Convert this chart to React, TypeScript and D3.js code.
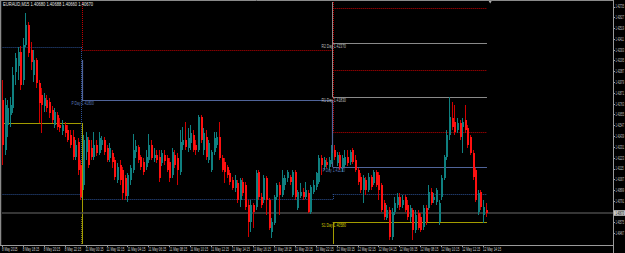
import React from "react";
import * as d3 from "d3";

type OHLC = [number, number, number, number]; // open, high, low, close

const symbolTitle = "EURAUD,M15  1.40680 1.40688 1.40660 1.40670";

// Friday 8 May 2015 (from 16:15)
const day1Candles: OHLC[] = [
  [1.4180, 1.4200, 1.4115, 1.4135], [1.4130, 1.4182, 1.4125, 1.4175], [1.4155, 1.4180, 1.4143, 1.4172],
  [1.4165, 1.4183, 1.4153, 1.4175], [1.4172, 1.4213, 1.4167, 1.4205], [1.4208, 1.4227, 1.4195, 1.4222],
  [1.4214, 1.4233, 1.4200, 1.4228], [1.4228, 1.4234, 1.4190, 1.4195], [1.4200, 1.4242, 1.4195, 1.4235],
  [1.4235, 1.4267, 1.4233, 1.4255], [1.4255, 1.4258, 1.4223, 1.4227], [1.4230, 1.4238, 1.4210, 1.4218],
  [1.4205, 1.4230, 1.4198, 1.4220], [1.4220, 1.4222, 1.4192, 1.4197], [1.4197, 1.4200, 1.4157, 1.4177],
  [1.4185, 1.4192, 1.4147, 1.4175], [1.4174, 1.4187, 1.4168, 1.4182], [1.4180, 1.4185, 1.4168, 1.4172],
  [1.4178, 1.4182, 1.4162, 1.4167], [1.4170, 1.4174, 1.4157, 1.4160], [1.4155, 1.4172, 1.4152, 1.4168],
  [1.4165, 1.4168, 1.4150, 1.4153], [1.4155, 1.4162, 1.4148, 1.4152], [1.4149, 1.4160, 1.4145, 1.4155],
  [1.4155, 1.4158, 1.4143, 1.4147], [1.4150, 1.4155, 1.4138, 1.4140], [1.4145, 1.4150, 1.4132, 1.4135],
  [1.4143, 1.4150, 1.4120, 1.4123], [1.4123, 1.4140, 1.4120, 1.4135], [1.4138, 1.4142, 1.4105, 1.4110],
  [1.4115, 1.4120, 1.4080, 1.4083],
];

// Monday 11 May 2015
const day2Candles: OHLC[] = [
  [1.4095, 1.4145, 1.4090, 1.4140], [1.4128, 1.4148, 1.4120, 1.4143], [1.4140, 1.4143, 1.4112, 1.4115],
  [1.4132, 1.4140, 1.4120, 1.4123], [1.4123, 1.4148, 1.4120, 1.4135], [1.4135, 1.4140, 1.4124, 1.4127],
  [1.4127, 1.4148, 1.4125, 1.4142], [1.4135, 1.4144, 1.4130, 1.4140], [1.4140, 1.4143, 1.4125, 1.4128],
  [1.4132, 1.4135, 1.4118, 1.4120], [1.4122, 1.4137, 1.4118, 1.4132], [1.4127, 1.4130, 1.4112, 1.4118],
  [1.4120, 1.4123, 1.4100, 1.4103], [1.4100, 1.4117, 1.4097, 1.4113], [1.4115, 1.4120, 1.4095, 1.4100],
  [1.4110, 1.4113, 1.4080, 1.4087], [1.4102, 1.4105, 1.4080, 1.4084], [1.4084, 1.4107, 1.4078, 1.4105],
  [1.4100, 1.4115, 1.4095, 1.4112], [1.4110, 1.4146, 1.4107, 1.4130], [1.4128, 1.4140, 1.4122, 1.4134],
  [1.4133, 1.4135, 1.4117, 1.4120], [1.4123, 1.4125, 1.4110, 1.4113], [1.4118, 1.4122, 1.4105, 1.4108],
  [1.4113, 1.4130, 1.4110, 1.4123], [1.4120, 1.4146, 1.4117, 1.4135], [1.4135, 1.4140, 1.4120, 1.4122],
  [1.4122, 1.4132, 1.4118, 1.4125], [1.4125, 1.4130, 1.4117, 1.4120], [1.4123, 1.4130, 1.4098, 1.4102],
  [1.4117, 1.4130, 1.4114, 1.4127], [1.4125, 1.4130, 1.4115, 1.4119], [1.4122, 1.4125, 1.4108, 1.4110],
  [1.4118, 1.4122, 1.4098, 1.4102], [1.4105, 1.4132, 1.4102, 1.4128], [1.4125, 1.4130, 1.4112, 1.4115],
  [1.4122, 1.4127, 1.4095, 1.4110], [1.4108, 1.4150, 1.4105, 1.4138], [1.4135, 1.4153, 1.4130, 1.4140],
  [1.4140, 1.4158, 1.4130, 1.4133], [1.4132, 1.4152, 1.4128, 1.4142], [1.4137, 1.4155, 1.4130, 1.4147],
  [1.4145, 1.4150, 1.4128, 1.4130], [1.4135, 1.4140, 1.4125, 1.4130], [1.4130, 1.4165, 1.4128, 1.4163],
  [1.4163, 1.4165, 1.4137, 1.4140], [1.4130, 1.4152, 1.4125, 1.4147], [1.4143, 1.4150, 1.4120, 1.4123],
  [1.4120, 1.4140, 1.4117, 1.4137], [1.4110, 1.4130, 1.4108, 1.4128], [1.4128, 1.4148, 1.4125, 1.4142],
  [1.4135, 1.4148, 1.4132, 1.4143], [1.4143, 1.4158, 1.4120, 1.4122], [1.4122, 1.4125, 1.4108, 1.4110],
  [1.4118, 1.4122, 1.4097, 1.4108], [1.4113, 1.4115, 1.4102, 1.4105], [1.4107, 1.4110, 1.4095, 1.4098],
  [1.4100, 1.4103, 1.4090, 1.4092], [1.4092, 1.4105, 1.4088, 1.4100], [1.4097, 1.4100, 1.4077, 1.4080],
  [1.4080, 1.4102, 1.4073, 1.4100], [1.4098, 1.4102, 1.4084, 1.4087], [1.4095, 1.4098, 1.4070, 1.4073],
  [1.4075, 1.4080, 1.4043, 1.4058], [1.4058, 1.4080, 1.4048, 1.4075], [1.4075, 1.4077, 1.4052, 1.4068],
  [1.4073, 1.4110, 1.4070, 1.4107], [1.4108, 1.4110, 1.4080, 1.4083], [1.4083, 1.4087, 1.4072, 1.4075],
  [1.4080, 1.4105, 1.4077, 1.4102], [1.4102, 1.4104, 1.4065, 1.4080], [1.4080, 1.4082, 1.4050, 1.4052],
  [1.4048, 1.4062, 1.4042, 1.4058], [1.4057, 1.4085, 1.4055, 1.4083], [1.4083, 1.4097, 1.4080, 1.4095],
  [1.4095, 1.4098, 1.4065, 1.4085], [1.4085, 1.4110, 1.4083, 1.4102], [1.4095, 1.4105, 1.4090, 1.4102],
  [1.4102, 1.4110, 1.4098, 1.4108], [1.4103, 1.4105, 1.4095, 1.4098], [1.4085, 1.4110, 1.4083, 1.4108],
  [1.4108, 1.4110, 1.4080, 1.4083], [1.4072, 1.4090, 1.4070, 1.4088], [1.4084, 1.4097, 1.4082, 1.4088],
  [1.4088, 1.4092, 1.4080, 1.4083], [1.4083, 1.4098, 1.4081, 1.4090], [1.4087, 1.4090, 1.4067, 1.4068],
  [1.4068, 1.4095, 1.4066, 1.4093], [1.4088, 1.4100, 1.4086, 1.4095], [1.4093, 1.4108, 1.4090, 1.4107],
  [1.4098, 1.4125, 1.4096, 1.4122], [1.4122, 1.4125, 1.4105, 1.4115], [1.4113, 1.4123, 1.4110, 1.4120],
  [1.4118, 1.4122, 1.4112, 1.4115], [1.4113, 1.4123, 1.4110, 1.4120], [1.4118, 1.4135, 1.4116, 1.4127],
];

// Tuesday 12 May 2015
const day3Candles: OHLC[] = [
  [1.4130, 1.4135, 1.4120, 1.4123], [1.4117, 1.4128, 1.4114, 1.4125], [1.4125, 1.4128, 1.4110, 1.4112],
  [1.4113, 1.4125, 1.4108, 1.4122], [1.4115, 1.4130, 1.4113, 1.4123], [1.4123, 1.4130, 1.4114, 1.4117],
  [1.4118, 1.4130, 1.4115, 1.4128], [1.4130, 1.4132, 1.4116, 1.4118], [1.4120, 1.4125, 1.4108, 1.4110],
  [1.4110, 1.4112, 1.4095, 1.4098], [1.4103, 1.4107, 1.4087, 1.4090], [1.4090, 1.4105, 1.4077, 1.4102],
  [1.4100, 1.4103, 1.4085, 1.4090], [1.4090, 1.4107, 1.4088, 1.4103], [1.4103, 1.4105, 1.4090, 1.4093],
  [1.4097, 1.4110, 1.4095, 1.4108], [1.4108, 1.4110, 1.4093, 1.4095], [1.4105, 1.4108, 1.4080, 1.4090],
  [1.4095, 1.4097, 1.4068, 1.4070], [1.4077, 1.4080, 1.4060, 1.4063], [1.4062, 1.4075, 1.4060, 1.4070],
  [1.4070, 1.4073, 1.4040, 1.4043], [1.4043, 1.4072, 1.4040, 1.4068], [1.4068, 1.4083, 1.4065, 1.4077],
  [1.4075, 1.4087, 1.4072, 1.4083], [1.4083, 1.4087, 1.4070, 1.4073], [1.4075, 1.4085, 1.4072, 1.4080],
  [1.4083, 1.4085, 1.4068, 1.4070], [1.4075, 1.4080, 1.4060, 1.4063], [1.4063, 1.4075, 1.4058, 1.4072],
  [1.4070, 1.4072, 1.4040, 1.4050], [1.4050, 1.4070, 1.4047, 1.4065], [1.4067, 1.4070, 1.4050, 1.4052],
  [1.4063, 1.4067, 1.4048, 1.4050], [1.4053, 1.4075, 1.4050, 1.4072], [1.4072, 1.4075, 1.4055, 1.4058],
  [1.4072, 1.4095, 1.4070, 1.4088], [1.4088, 1.4092, 1.4075, 1.4077], [1.4080, 1.4087, 1.4077, 1.4083],
  [1.4078, 1.4092, 1.4075, 1.4090], [1.4058, 1.4080, 1.4055, 1.4077], [1.4083, 1.4105, 1.4080, 1.4102],
  [1.4102, 1.4125, 1.4100, 1.4123], [1.4123, 1.4150, 1.4120, 1.4145], [1.4145, 1.4183, 1.4140, 1.4163],
  [1.4162, 1.4178, 1.4150, 1.4153], [1.4158, 1.4175, 1.4145, 1.4148], [1.4150, 1.4162, 1.4147, 1.4157],
  [1.4157, 1.4160, 1.4140, 1.4143], [1.4153, 1.4162, 1.4127, 1.4158], [1.4160, 1.4175, 1.4147, 1.4150],
  [1.4152, 1.4155, 1.4132, 1.4135], [1.4143, 1.4145, 1.4125, 1.4127], [1.4127, 1.4130, 1.4100, 1.4103],
  [1.4110, 1.4112, 1.4078, 1.4080], [1.4068, 1.4090, 1.4065, 1.4087], [1.4088, 1.4090, 1.4070, 1.4073],
  [1.4065, 1.4080, 1.4057, 1.4073], [1.4070, 1.4077, 1.4063, 1.4067],
];

const timeLabels = [
  "8 May 2015", "8 May 18:15", "8 May 20:15", "8 May 22:15",
  "11 May 00:15", "11 May 02:15", "11 May 04:15", "11 May 06:15", "11 May 08:15", "11 May 10:15",
  "11 May 12:15", "11 May 14:15", "11 May 16:15", "11 May 18:15", "11 May 20:15", "11 May 22:15",
  "12 May 00:15", "12 May 02:15", "12 May 04:15", "12 May 06:15", "12 May 08:15", "12 May 10:15",
  "12 May 12:15", "12 May 14:15",
];
const timeLabelEvery = 8;

const priceTicks = [
  1.42735, 1.42627, 1.42519, 1.42411, 1.42303, 1.42195, 1.42087, 1.41979, 1.41871, 1.41763, 1.41655,
  1.41547, 1.41439, 1.41331, 1.41223, 1.41115, 1.41007, 1.40899, 1.40791, 1.40575, 1.40467,
];
const currentPrice = 1.4067;

const pivotLevels = [
  { day: 0, price: 1.4233, kind: "midBlue" },
  { day: 0, price: 1.4157, kind: "sup" },
  { day: 0, price: 1.4086, kind: "midBlue" },
  { day: 1, price: 1.4230, kind: "midRed" },
  { day: 1, price: 1.4180, kind: "pivot" },
  { day: 1, price: 1.4081, kind: "midBlue" },
  { day: 2, price: 1.4272, kind: "midRed" },
  { day: 2, price: 1.4237, kind: "res" },
  { day: 2, price: 1.4210, kind: "midRed" },
  { day: 2, price: 1.4183, kind: "res" },
  { day: 2, price: 1.4148, kind: "midRed" },
  { day: 2, price: 1.4113, kind: "pivot" },
  { day: 2, price: 1.4086, kind: "midBlue" },
  { day: 2, price: 1.4058, kind: "sup" },
];
const pivotSteps = [
  { day: 1, from: 1.4280, to: 1.4230, kind: "midRed", dx: 0.5 },
  { day: 1, from: 1.4233, to: 1.4081, kind: "midBlue", dx: -0.8 },
  { day: 1, from: 1.4220, to: 1.4180, kind: "pivot", dx: 0.6 },
  { day: 1, from: 1.4157, to: 1.4036, kind: "sup", dx: 0.6 },
  { day: 1, from: 1.4063, to: 1.4036, kind: "supDot", dx: -0.8 },
  { day: 2, from: 1.4280, to: 1.4183, kind: "res", dx: -0.6 },
  { day: 2, from: 1.4280, to: 1.4148, kind: "midRed", dx: 0.6 },
  { day: 2, from: 1.4180, to: 1.4113, kind: "pivot", dx: -0.6 },
  { day: 2, from: 1.4081, to: 1.4086, kind: "midBlue", dx: 0.6 },
  { day: 2, from: 1.4036, to: 1.4058, kind: "sup", dx: 0 },
];
const pivotLabels = [
  { day: 1, price: 1.4180, text: "P Day  1.41800", kind: "pivot" },
  { day: 2, price: 1.4237, text: "R2 Day  1.42370", kind: "res" },
  { day: 2, price: 1.4183, text: "R1 Day  1.41830", kind: "res" },
  { day: 2, price: 1.4113, text: "P Day  1.41130", kind: "pivot" },
  { day: 2, price: 1.4058, text: "S1 Day  1.40580", kind: "sup" },
];

const styles: Record<string, { stroke: string; dash?: string; width: number }> = {
  midRed: { stroke: "#c40000", dash: "1,1", width: 1 },
  res: { stroke: "#8a8a8a", width: 1 },
  pivot: { stroke: "#50649a", width: 1.2 },
  midBlue: { stroke: "#2c5296", dash: "1,1", width: 1 },
  sup: { stroke: "#a39c00", width: 1 },
  supDot: { stroke: "#6f6a20", dash: "1,1", width: 1 },
};
const labelColors: Record<string, string> = { res: "#bdbdbd", pivot: "#5a78b8", sup: "#d0c800" };

const W = 625;
const H = 253;
const plotLeft = 2;
const plotRight = 613;
const plotTop = 2;
const plotBottom = 245;
const font = "'Liberation Sans', Arial, sans-serif";

// text squeezed horizontally (like the downscaled screenshot)
function SqText(props: { x: number; y: number; sx: number; fill: string; size?: number; anchor?: string; children: string }) {
  const { x, y, sx, fill, size = 5, anchor = "start", children } = props;
  return (
    <g transform={`translate(${x},${y}) scale(${sx},1)`}>
      <text x={0} y={0} fontSize={size} fontFamily={font} fill={fill} textAnchor={anchor}>{children}</text>
    </g>
  );
}

export default function App() {
  const candles = [...day1Candles, ...day2Candles, ...day3Candles];
  const dayStarts = [0, day1Candles.length, day1Candles.length + day2Candles.length, candles.length];
  const n = candles.length;

  const x = d3.scaleLinear().domain([0, n - 1]).range([1.9, 1.9 + 2.615 * (n - 1)]);
  const y = d3.scaleLinear().domain([1.4280, 1.4037]).range([0, 243]);
  const dayX = (d: number) => x(dayStarts[d] - 0.5);
  const bull = "#0f8080";
  const bear = "#ff1010";

  return (
    <svg width={W} height={H} style={{ position: "fixed", left: 0, top: 0, background: "#000" }}>
      <defs>
        <clipPath id="plot">
          <rect x={plotLeft} y={plotTop} width={plotRight - plotLeft} height={plotBottom - plotTop} />
        </clipPath>
      </defs>
      <rect x={0} y={0} width={W} height={H} fill="#000" />
      <g clipPath="url(#plot)">
        {pivotLevels.map((l, i) => {
          const s = styles[l.kind];
          const yy = Math.round(y(l.price)) + 0.5;
          return (
            <line key={"l" + i} x1={dayX(l.day)} x2={dayX(l.day + 1)} y1={yy} y2={yy}
              stroke={s.stroke} strokeWidth={s.width} strokeDasharray={s.dash} />
          );
        })}
        {pivotSteps.map((st, i) => {
          const s = styles[st.kind];
          const xx = Math.round(dayX(st.day) + st.dx) + 0.5;
          return (
            <line key={"s" + i} x1={xx} x2={xx} y1={y(st.from)} y2={y(st.to)}
              stroke={s.stroke} strokeWidth={s.width} strokeDasharray={s.dash} />
          );
        })}
        <line x1={plotLeft} x2={plotRight} y1={y(currentPrice)} y2={y(currentPrice)} stroke="#474747" strokeWidth={1.6} />
        <g shapeRendering="crispEdges">
          {candles.map((c, i) => {
            const [o, h, l, cl] = c;
            const up = cl >= o;
            const col = up ? bull : bear;
            const cx = Math.round(x(i));
            const top = y(Math.max(o, cl));
            const bot = y(Math.min(o, cl));
            return (
              <g key={"c" + i}>
                <rect x={cx} y={y(h)} width={1} height={Math.max(1, y(l) - y(h))} fill={up ? bull : "#d00000"} />
                <rect x={cx - 0.5} y={top} width={2} height={Math.max(1, bot - top)} fill={col} />
              </g>
            );
          })}
        </g>
        {pivotLabels.map((p, i) => (
          <SqText key={"p" + i} x={dayX(p.day) + 1} y={y(p.price) + 4.5} sx={0.68} anchor="middle"
            fill={labelColors[p.kind]}>{p.text}</SqText>
        ))}
      </g>
      <line x1={0.5} x2={0.5} y1={0} y2={plotBottom} stroke="#8a8a8a" strokeWidth={1.5} />
      <line x1={0} x2={plotRight} y1={0.5} y2={0.5} stroke="#8a8a8a" />
      <line x1={plotRight + 0.5} x2={plotRight + 0.5} y1={0} y2={H} stroke="#9a9a9a" />
      <line x1={0} x2={plotRight} y1={plotBottom + 0.5} y2={plotBottom + 0.5} stroke="#9a9a9a" />
      <path d={`M${x(n - 1) + 3},1 l3,0 l-1.5,2.5 z`} fill="#aaaaaa" />
      <SqText x={3} y={5.5} sx={0.82} fill="#e6e6e6">{symbolTitle}</SqText>
      {priceTicks.map((t, i) => (
        <g key={"t" + i}>
          <line x1={plotRight} x2={plotRight + 2} y1={Math.round(y(t)) + 0.5} y2={Math.round(y(t)) + 0.5} stroke="#9a9a9a" />
          <SqText x={plotRight + 2.5} y={y(t) + 1.8} sx={0.47} fill="#cfcfcf">{t.toFixed(5)}</SqText>
        </g>
      ))}
      <rect x={plotRight + 1} y={y(currentPrice) - 2.8} width={W - plotRight - 1} height={5.6} fill="#c8c8c8" />
      <SqText x={plotRight + 2.5} y={y(currentPrice) + 1.8} sx={0.47} fill="#000">{currentPrice.toFixed(5)}</SqText>
      {timeLabels.map((t, i) => {
        const xx = x(i * timeLabelEvery);
        return (
          <g key={"x" + i}>
            <line x1={Math.round(xx) + 0.5} x2={Math.round(xx) + 0.5} y1={plotBottom} y2={plotBottom + 2} stroke="#9a9a9a" />
            <SqText x={xx} y={251} sx={0.6} fill="#cfcfcf">{t}</SqText>
          </g>
        );
      })}
    </svg>
  );
}
